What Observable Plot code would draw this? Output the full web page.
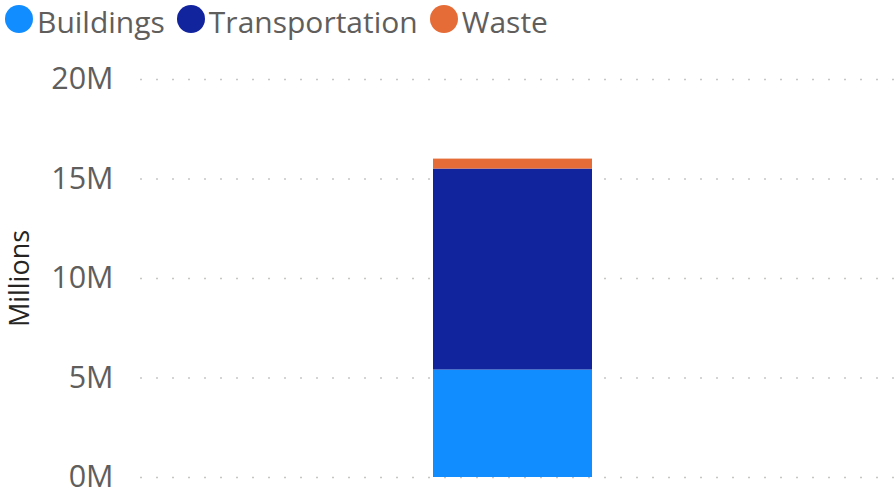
<!DOCTYPE html>
<html>
<head>
<meta charset="utf-8">
<script src="https://cdn.jsdelivr.net/npm/d3@7"></script>
<script src="https://cdn.jsdelivr.net/npm/@observablehq/plot@0.6"></script>
<style>
  html, body { margin: 0; padding: 0; background: #fff; }
  body { width: 894px; height: 496px; overflow: hidden; font-family: "Open Sans", sans-serif; }
  #legend { height: 42px; display: flex; align-items: flex-start; padding-left: 5px; padding-top: 1px; box-sizing: border-box; }
  .item { display: flex; align-items: flex-start; margin-right: 12px; }
  .dot { width: 28px; height: 28px; border-radius: 50%; margin-right: 4px; margin-top: 4px; flex: none; }
  .lab { font-size: 30px; color: #605E5C; line-height: normal; white-space: nowrap; }
</style>
</head>
<body>
<div id="legend"></div>
<div id="chart"></div>
<script>
const categories = ["Total"];
const series = ["Buildings", "Transportation", "Waste"];
const values = [5.4e6, 10.1e6, 0.5e6];
const colors = ["#118DFF", "#12239E", "#E66C37"];
const yTicks = [0, 5e6, 10e6, 15e6, 20e6];
const yTickLabels = ["0M", "5M", "10M", "15M", "20M"];
const axisTitle = "Millions";

const data = series.map((s, i) => ({category: categories[0], series: s, value: values[i]}));

const legend = document.getElementById("legend");
series.forEach((s, i) => {
  const it = document.createElement("div");
  it.className = "item";
  const d = document.createElement("div");
  d.className = "dot";
  d.style.background = colors[i];
  const t = document.createElement("span");
  t.className = "lab";
  t.textContent = s;
  it.appendChild(d); it.appendChild(t);
  legend.appendChild(it);
});

const chart = Plot.plot({
  width: 894,
  height: 454,
  marginLeft: 140,
  marginRight: 0,
  marginTop: 37,
  marginBottom: 19,
  style: {fontFamily: "'Open Sans', sans-serif", background: "#fff", overflow: "visible"},
  x: {type: "band", domain: categories, paddingInner: 0, paddingOuter: 1.871, align: 0.492, axis: null},
  y: {domain: [0, 20e6], axis: null},
  color: {domain: series, range: colors},
  marks: [
    Plot.ruleY(yTicks, {stroke: "#c8c6c4", strokeWidth: 1.5, strokeDasharray: "2,14"}),
    Plot.text(yTicks, {
      y: d => d, frameAnchor: "left", dx: -27, textAnchor: "end",
      text: (d, i) => yTickLabels[i], fill: "#605E5C", fontSize: 30.5, lineAnchor: "middle"
    }),
    Plot.barY(data, {x: "category", y: "value", fill: "series", order: series}),
    Plot.text([axisTitle], {
      frameAnchor: "left", dx: -120, rotate: -90, text: d => d,
      fill: "#252423", fontSize: 27, textAnchor: "middle", lineAnchor: "middle"
    })
  ]
});
document.getElementById("chart").appendChild(chart);
</script>
</body>
</html>
